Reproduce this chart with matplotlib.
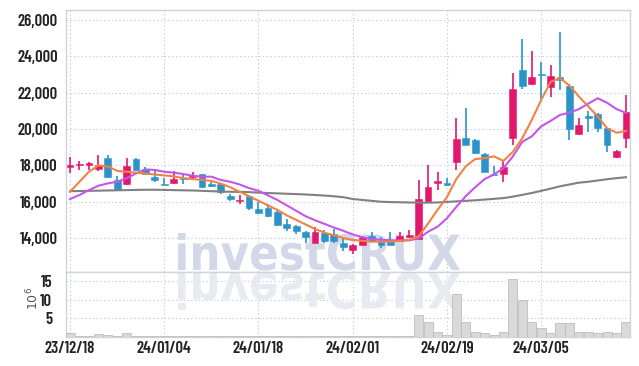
import matplotlib
matplotlib.use("Agg")
import matplotlib.pyplot as plt
from matplotlib.textpath import TextPath
from matplotlib.patches import PathPatch, Rectangle
from matplotlib.font_manager import FontProperties
from matplotlib.transforms import Affine2D
import numpy as np

# ---------------- data ----------------
opens  = [17950,18030,18030,17800,18400,17200,17000,18350,17800,17350,
          17000,17050,17300,17350,17500,17000,17000,16300,16050,16300,
          15600,15650,15450,14750,14650,14350,13750,14300,14200,13750,
          13350,13600,14100,13800,13850,13850,14050,13950,16000,17050,
          17050,18200,19500,19400,18650,17550,17500,19500,23250,22500,
          23050,22300,22850,22350,19750,20700,20850,20050,18450,19500]
highs  = [18450,18250,18200,18600,18550,17400,18400,18400,17900,17750,
          17300,17700,17550,17650,17550,17100,17050,16400,16350,16350,
          16000,15850,15500,15050,14700,14400,14600,14450,14500,14000,
          13650,14100,14350,14050,14350,14350,14450,17200,18000,17650,
          17300,20600,21150,19450,18700,17950,18300,23100,24950,24300,
          23700,23550,25350,22500,20600,21000,20900,20050,18850,21900]
lows   = [17600,17750,17750,17700,17300,16600,16900,17700,17450,17100,
          16900,17000,17000,17250,16750,16800,16400,16050,15900,15550,
          15350,15150,14650,14400,14250,13750,13750,13750,13750,13300,
          13100,13600,13800,13450,13600,13850,14000,13900,15950,16650,
          16850,17750,19100,18650,17650,17450,17100,19150,22200,22450,
          21650,21750,22150,19400,19700,19850,19850,18750,18400,18950]
closes = [18000,18070,18150,18050,17350,16650,17950,17750,17500,17200,
          16900,17250,17250,17450,16800,16850,16550,16150,16100,15650,
          15400,15200,14700,14550,14400,14050,14350,13850,13850,13500,
          13600,14050,13850,13600,13620,14100,14150,16150,16800,17150,
          16900,19450,19150,18700,17650,17450,17900,22200,22400,22850,
          23000,22900,22700,20000,20200,20600,20050,19100,18800,20950]
volumes = [1.0,0.4,0.4,0.8,0.5,0.3,1.1,0.3,0.3,0.2,
           0.2,0.2,0.2,0.2,0.3,0.3,0.2,0.2,0.2,0.3,
           0.3,0.2,0.3,0.3,0.3,0.3,0.3,0.3,0.3,0.3,
           0.3,0.2,0.2,0.2,0.3,0.3,0.2,5.9,4.1,1.25,
           0.5,11.7,4.1,1.25,1.0,0.45,1.25,15.7,9.9,4.1,
           2.3,1.0,3.7,3.7,1.25,1.25,1.0,1.25,1.0,4.1]
ma_short = [16550,17100,17650,18000,17950,17700,17650,17600,17550,17500,
            17450,17400,17300,17250,17200,17150,17000,16800,16550,16300,
            16050,15800,15550,15250,15000,14750,14500,14300,14150,14000,
            13900,13850,13800,13800,13800,13850,13900,14100,14800,15550,
            16250,17250,17950,18350,18400,18500,18250,18750,19500,20500,
            21600,22600,22800,22400,21800,21250,20700,20050,19800,19900]
ma_mid = [16150,16370,16640,16880,17010,17100,17290,17560,17780,17750,
          17650,17600,17530,17430,17380,17380,17200,17100,16950,16750,
          16600,16350,16100,15800,15500,15200,14980,14780,14580,14400,
          14200,14050,13950,13900,13880,13870,13870,13980,14350,14620,
          15090,15720,16310,16800,17250,17500,17850,18500,19300,19600,
          20150,20450,20780,20900,21100,21400,21700,21450,21100,20900]
ma_long = [16580,16590,16600,16610,16620,16630,16640,16650,16660,16660,
           16650,16640,16630,16620,16600,16580,16560,16550,16540,16530,
           16500,16480,16460,16440,16420,16400,16370,16340,16300,16250,
           16150,16100,16050,16000,15980,15970,15960,15950,15950,15960,
           15990,16020,16050,16080,16120,16160,16200,16280,16380,16480,
           16600,16720,16850,16950,17050,17100,17170,17240,17300,17350]
tick_pos = [0, 10, 20, 30, 40, 50]
tick_labels = ["23/12/18", "24/01/04", "24/01/18", "24/02/01", "24/02/19", "24/03/05"]
price_ticks = [14000, 16000, 18000, 20000, 22000, 24000, 26000]
vol_ticks = [5, 10, 15]

# ---------------- style ----------------
W, H = 639, 366
RED = "#e2186c"
BLUE = "#2b93c9"
ORANGE = "#ef8246"
PURPLE = "#c456e8"
GRAY = "#808080"
GRID = "#c4cad8"
SPINE = "#d0d3da"
TXT = "#222222"
tick_font = dict(family=["Barlow Condensed", "DejaVu Sans"], weight=600, size=12)

fig = plt.figure(figsize=(W / 100, H / 100), dpi=100)
fig.patch.set_facecolor("white")

L, R = 66 / W, 630 / W
ax = fig.add_axes([L, 1 - 272 / H, R - L, (272 - 10) / H])
axv = fig.add_axes([L, 1 - 337 / H, R - L, (337 - 272) / H])

n = len(opens)
x = np.arange(n)
xlim = (-0.43, n - 1 + 0.43)

for a in (ax, axv):
    a.set_xlim(*xlim)
    a.set_facecolor("white")
    for s in a.spines.values():
        s.set_color(SPINE)
        s.set_linewidth(1.0)
    a.tick_params(length=0, colors=TXT)
    a.set_axisbelow(True)
    a.grid(True, color=GRID, linestyle=(0, (1.2, 2.2)), linewidth=0.8)
    a.set_xticks(tick_pos)

ax.set_ylim(12130, 26560)
ax.set_yticks(price_ticks)
ax.set_yticklabels([f"{v:,}" for v in price_ticks], **tick_font)
ax.set_xticklabels([])
ax.tick_params(axis="y", pad=6)

# candles
bw = 0.72
for i in range(n):
    o, h, l, c = opens[i], highs[i], lows[i], closes[i]
    col = RED if c >= o else BLUE
    ax.vlines(x[i], l, h, color=col, linewidth=1.2, zorder=3)
    lo, hi = min(o, c), max(o, c)
    if hi - lo < 70:
        mid = (hi + lo) / 2
        lo, hi = mid - 35, mid + 35
    ax.add_patch(Rectangle((x[i] - bw / 2, lo), bw, hi - lo, facecolor=col,
                           edgecolor=col, linewidth=0.4, zorder=4))

ax.plot(x, ma_long, color=GRAY, linewidth=1.5, zorder=5)
ax.plot(x, ma_mid, color=PURPLE, linewidth=1.5, zorder=5)
ax.plot(x, ma_short, color=ORANGE, linewidth=1.5, zorder=6)

# volume
axv.bar(x, volumes, width=0.96, color="#d9d9d9", edgecolor="#bdbdbd", linewidth=0.6, zorder=3)
axv.set_ylim(0, 17.5)
axv.set_yticks(vol_ticks)
axv.set_yticklabels([str(v) for v in vol_ticks], **tick_font)
axv.set_xticklabels(tick_labels, **tick_font)
axv.tick_params(axis="x", pad=3)
axv.tick_params(axis="y", pad=10)
fig.text(33 / W, 1 - 298 / H, r"$10^6$", rotation=90, ha="center", va="center",
         fontsize=9, color="#555555")

# watermark
tp = TextPath((0, 0), "investCRUX", size=100,
              prop=FontProperties(family="DejaVu Sans", weight="bold"))
ext = tp.get_extents()
x0, x1, y0, y1 = ext.x0, ext.x1, 0.0, ext.y1
sx = (460 - 178) / (x1 - x0)
sy = (270 - 233) / (y1 - y0)
t_up = Affine2D().translate(-x0, 0).scale(sx, sy).translate(178, H - 270)
ax.add_patch(PathPatch(tp, transform=t_up, facecolor="#d3d8e8", edgecolor="none",
                       zorder=1, clip_on=False))
t_dn = Affine2D().translate(-x0, 0).scale(sx, -sy).translate(178, H - 273)
axv.add_patch(PathPatch(tp, transform=t_dn, facecolor="#e8eaf2", edgecolor="none",
                        zorder=1, clip_on=False))

fig.savefig("out.png", dpi=100, facecolor="white")
